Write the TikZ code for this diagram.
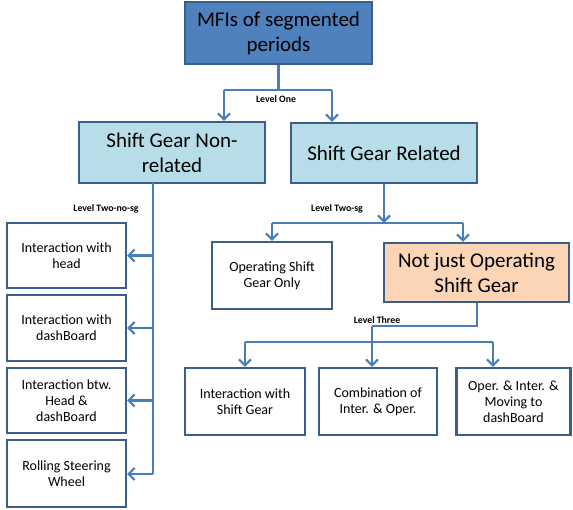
\documentclass[tikz,border=0pt]{standalone}
\usepackage{fontspec}
\setmainfont{Carlito}
\usetikzlibrary{arrows.meta}
\definecolor{topblue}{HTML}{4F81BD}
\definecolor{edgeblue}{HTML}{3A5F8B}
\definecolor{lightblue}{HTML}{B7DEE8}
\definecolor{peach}{HTML}{FBD5B5}
\definecolor{linkblue}{HTML}{4A7EBB}

\begin{document}
\begin{tikzpicture}[x=1pt,y=-1pt,
    box/.style={draw=edgeblue, line width=2.2pt, align=center, inner sep=1pt},
    topbox/.style={box, fill=topblue, font=\fontsize{21}{25}\selectfont},
    catbox/.style={box, fill=lightblue, font=\fontsize{21}{25}\selectfont},
    leafbox/.style={box, fill=white, font=\fontsize{14}{16}\selectfont},
    conn/.style={draw=linkblue, line width=2.2pt, -{Straight Barb[length=6pt,width=12pt]}},
    link/.style={draw=linkblue, line width=2.2pt},
    lvl/.style={font=\bfseries\fontsize{9.8}{11}\selectfont, inner sep=1pt}]
  \useasboundingbox (0,0) rectangle (573,510);

  % top of the tree
  \node[topbox, minimum width=187pt, minimum height=62pt] (mfi) at (278.5,33) {MFIs of segmented\\periods};

  % level one
  \node[catbox, minimum width=186pt, minimum height=61pt] (nonrel) at (172,152.5) {Shift Gear Non-\\related};
  \node[catbox, minimum width=186pt, minimum height=60pt] (rel) at (384,153) {Shift Gear Related};

  % level two, no shift gear
  \node[leafbox, minimum width=119pt, minimum height=65pt] (head) at (66.5,255.5) {Interaction with\\head};
  \node[leafbox, minimum width=119pt, minimum height=66pt] (dash) at (66.5,328) {Interaction with\\dashBoard};
  \node[leafbox, minimum width=119pt, minimum height=65pt] (headdash) at (66.5,400.5) {Interaction btw.\\Head \&\\dashBoard};
  \node[leafbox, minimum width=119pt, minimum height=67pt] (wheel) at (66.5,473.5) {Rolling Steering\\Wheel};

  % level two, shift gear
  \node[leafbox, minimum width=120pt, minimum height=67pt] (only) at (272,275.5) {Operating Shift\\Gear Only};
  \node[box, fill=peach, font=\fontsize{21}{25}\selectfont, minimum width=185pt, minimum height=59pt] (notjust) at (476.5,272.5) {Not just Operating\\Shift Gear};

  % level three
  \node[leafbox, minimum width=120pt, minimum height=67pt] (inter) at (245,401.5) {Interaction with\\Shift Gear};
  \node[leafbox, minimum width=118pt, minimum height=67pt] (combo) at (378,401.5) {Combination of\\Inter. \& Oper.};
  \node[leafbox, minimum width=114pt, minimum height=67pt] (move) at (513.5,401.5) {Oper. \& Inter. \&\\Moving to\\dashBoard};

  % elbow points
  \coordinate (j1) at (278.5,90);
  \coordinate (j1l) at (224,90);
  \coordinate (j1r) at (332,90);
  \coordinate (j2) at (153,183);
  \coordinate (j2e) at (153,474);
  \coordinate (j3) at (384,223);
  \coordinate (j3l) at (272,223);
  \coordinate (j3r) at (463,223);
  \coordinate (j4) at (477,326);
  \coordinate (j4m) at (372,326);
  \coordinate (j5l) at (245,342);
  \coordinate (j5r) at (493,342);

  \draw[link] (mfi.south) -- (j1);
  \draw[link] (j1l) -- (j1r);
  \draw[conn] (j1l) -- (j1l |- nonrel.north);
  \draw[conn] (j1r) -- (j1r |- rel.north);
  \node[lvl] (lvlone) at (276,99) {Level One};

  \draw[link] (j2) -- (j2e);
  \draw[conn] (j2 |- head.east) -- (head.east);
  \draw[conn] (j2 |- dash.east) -- (dash.east);
  \draw[conn] (j2 |- headdash.east) -- (headdash.east);
  \draw[conn] (j2e) -- (j2e -| wheel.east);
  \node[lvl] (lvltwono) at (106,208.5) {Level Two-no-sg};

  \draw[conn] (rel.south) -- (j3);
  \draw[link] (j3l) -- (j3r);
  \draw[conn] (j3l) -- (only.north);
  \draw[conn] (j3r) -- (j3r |- notjust.north);
  \node[lvl] (lvltwo) at (337,208.5) {Level Two-sg};

  \draw[link] (notjust.south -| j4) -- (j4) -- (j4m);
  \draw[conn] (j4m) -- (j4m |- combo.north);
  \draw[link] (j5l) -- (j5r);
  \draw[conn] (j5l) -- (inter.north);
  \draw[conn] (j5r) -- (j5r |- move.north);
  \node[lvl] (lvlthree) at (377,320) {Level Three};
\end{tikzpicture}
\end{document}
